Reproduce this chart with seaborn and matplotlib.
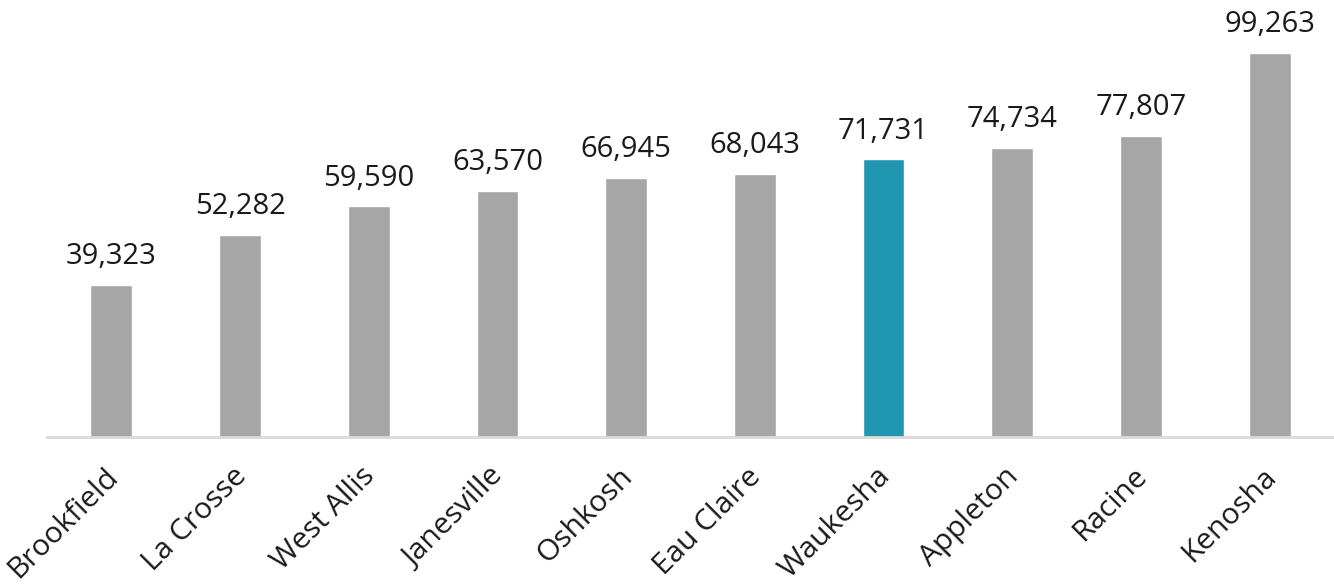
import matplotlib
matplotlib.use("Agg")
import matplotlib.pyplot as plt
import matplotlib.transforms as mtransforms
import seaborn as sns
import pandas as pd

cities = ["Brookfield", "La Crosse", "West Allis", "Janesville", "Oshkosh",
          "Eau Claire", "Waukesha", "Appleton", "Racine", "Kenosha"]
values = [39323, 52282, 59590, 63570, 66945, 68043, 71731, 74734, 77807, 99263]
highlight = "Waukesha"

sns.set_theme(style="white")
plt.rcParams['font.family'] = ['Open Sans', 'DejaVu Sans']

df = pd.DataFrame({"city": cities, "value": values})
palette = {c: ("#2196B0" if c == highlight else "#A6A6A6") for c in cities}

fig = plt.figure(figsize=(13.34, 5.86), dpi=100)
ax = fig.add_axes([0.0352, 0.2543, 0.9648, 0.7457])
sns.barplot(data=df, x="city", y="value", hue="city", palette=palette,
            width=0.325, legend=False, ax=ax, saturation=1)

for p, v in zip(ax.patches, values):
    ax.annotate(f"{v:,}", (p.get_x() + p.get_width() / 2, p.get_height()),
                xytext=(0, 10), textcoords="offset points",
                ha="center", va="bottom", fontsize=21, color="#1a1a1a")

ax.set_xlim(-0.5, 9.5)
ax.set_ylim(0, 112960)
ax.set_xlabel("")
ax.set_ylabel("")
ax.set_yticks([])
for s in ["top", "right", "left"]:
    ax.spines[s].set_visible(False)
ax.spines["bottom"].set_color("#D9D9D9")
ax.spines["bottom"].set_linewidth(2)
ax.tick_params(axis="x", length=0, pad=18)
shift = mtransforms.ScaledTranslation(-8 / 100, 0, fig.dpi_scale_trans)
for lbl in ax.get_xticklabels():
    lbl.set_rotation(45)
    lbl.set_ha("right")
    lbl.set_rotation_mode("anchor")
    lbl.set_fontsize(21.5)
    lbl.set_color("#1a1a1a")
    lbl.set_transform(lbl.get_transform() + shift)

fig.savefig("out.png", dpi=100)
